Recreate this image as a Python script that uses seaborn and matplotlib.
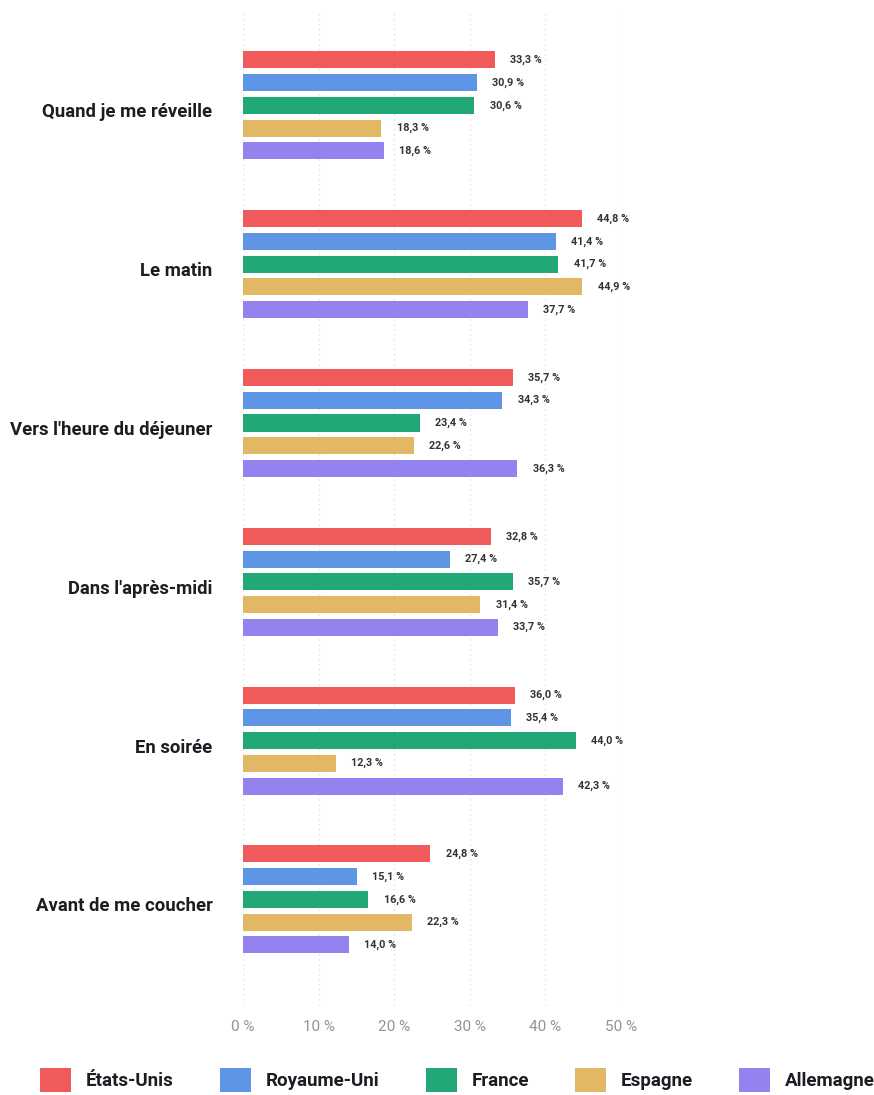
import matplotlib
matplotlib.use("Agg")
import matplotlib.pyplot as plt
import matplotlib.transforms as mtransforms
import seaborn as sns
import pandas as pd
from matplotlib.patches import Patch

categories = ["Quand je me réveille", "Le matin", "Vers l'heure du déjeuner",
              "Dans l'après-midi", "En soirée", "Avant de me coucher"]
countries = ["États-Unis", "Royaume-Uni", "France", "Espagne", "Allemagne"]
etats_unis = [33.3, 44.8, 35.7, 32.8, 36.0, 24.8]
royaume_uni = [30.9, 41.4, 34.3, 27.4, 35.4, 15.1]
france = [30.6, 41.7, 23.4, 35.7, 44.0, 16.6]
espagne = [18.3, 44.9, 22.6, 31.4, 12.3, 22.3]
allemagne = [18.6, 37.7, 36.3, 33.7, 42.3, 14.0]
xticks = [0, 10, 20, 30, 40, 50]
colors = ["#F05A5B", "#5F95E5", "#22A876", "#E2B865", "#9483EF"]

series = [etats_unis, royaume_uni, france, espagne, allemagne]
rows = []
for c, vals in zip(countries, series):
    for cat, v in zip(categories, vals):
        rows.append({"cat": cat, "pays": c, "val": v})
df = pd.DataFrame(rows)

sns.set_theme(style="white")
plt.rcParams['font.family'] = ['Roboto', 'DejaVu Sans']

fig = plt.figure(figsize=(8.74, 10.95), dpi=100)
ax = fig.add_axes([243/874, 1 - 1005/1095, 378/874, (1005 - 12)/1095])

sns.barplot(data=df, y="cat", x="val", hue="pays", order=categories,
            hue_order=countries, palette=colors, orient="h", width=0.715,
            gap=0.25, ax=ax, legend=False, saturation=1, linewidth=0)

ax.set_xlim(0, 50)
ax.set_ylim(5 + (1005 - 899.4) / 158.8, -(105.4 - 12) / 158.8)
ax.set_xticks(xticks)
ax.set_xticklabels([f"{t} %" for t in xticks], color="#8a959e", fontsize=11)
ax.tick_params(axis="x", length=0, pad=11)
ax.tick_params(axis="y", length=0, pad=22)
offset = mtransforms.ScaledTranslation(0, -5 / 100, fig.dpi_scale_trans)
for lab in ax.get_yticklabels():
    lab.set_fontweight("bold")
    lab.set_fontsize(13.3)
    lab.set_color("#1a1d21")
    lab.set_transform(lab.get_transform() + offset)
ax.set_xlabel("")
ax.set_ylabel("")
for s in ax.spines.values():
    s.set_visible(False)
ax.grid(axis="x", color="#d8dcdf", linestyle=(0, (1, 3)), linewidth=0.9)
ax.set_axisbelow(True)

for cont in ax.containers:
    labels = [f"{v:.1f} %".replace(".", ",") for v in cont.datavalues]
    ax.bar_label(cont, labels=labels, padding=11, fontsize=7.8, fontweight="bold",
                 color="#333333", clip_on=False)

handles = [Patch(facecolor=col, edgecolor="none") for col in colors]
leg = fig.legend(handles, countries, loc="center", ncol=5,
                 bbox_to_anchor=(457.5/874, 1 - 1080/1095), frameon=False,
                 handlelength=1.65, handleheight=1.65, handletextpad=0.8,
                 columnspacing=2.45, borderpad=0, borderaxespad=0,
                 prop={"family": "Roboto", "weight": "bold", "size": 13.5})
for t in leg.get_texts():
    t.set_color("#1a1d21")

fig.savefig("out.png", dpi=100)
